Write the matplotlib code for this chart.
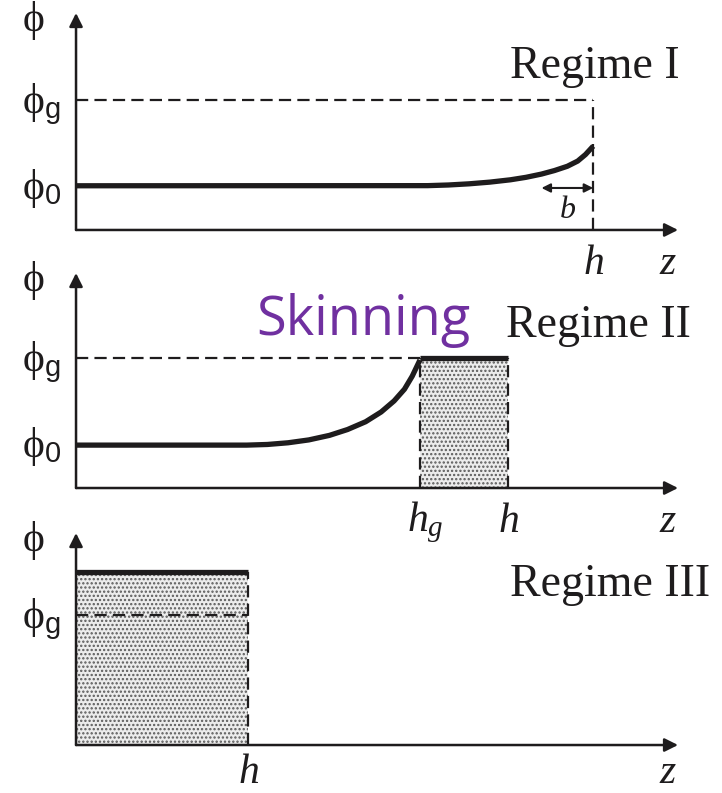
import matplotlib
matplotlib.use("Agg")
import matplotlib.pyplot as plt

plt.rcParams["mathtext.fontset"] = "custom"
plt.rcParams["mathtext.rm"] = "Liberation Serif"
plt.rcParams["mathtext.it"] = "Liberation Serif:italic"
plt.rcParams["mathtext.sf"] = "Liberation Sans"
plt.rcParams["hatch.linewidth"] = 1.1

INK = "#1e1c1d"
SHADE = "#ececec"
DOTS = "#5a5a5a"
PURPLE = "#7030a0"

# shared scales (h = 1 in regime I, phi_g = 1)
Z_MAX = 1.164
PHI_G = 1.0
PHI_0 = 0.34

# regime I: boundary layer of width b at the surface z = h
H1 = 1.0
B1 = 0.10
z1 = [0.0, 0.68, 0.72, 0.76, 0.80, 0.84, 0.87, 0.90, 0.925, 0.95, 0.97,
      0.985, 1.0]
phi1 = [0.34, 0.341, 0.346, 0.355, 0.368, 0.386, 0.405, 0.43, 0.457, 0.49,
        0.53, 0.58, 0.645]

# regime II: skin between h_g and h
HG2 = 0.665
H2 = 0.836
z2 = [0.0, 0.33, 0.37, 0.41, 0.45, 0.49, 0.525, 0.56, 0.59, 0.615, 0.635,
      0.65, 0.665]
phi2 = [0.33, 0.33, 0.335, 0.348, 0.37, 0.405, 0.45, 0.51, 0.585, 0.67,
        0.76, 0.86, 0.985]

# regime III: whole film above phi_g
H3 = 0.333
PHI_TOP3 = 1.33

fig = plt.figure(figsize=(7.22, 7.93), dpi=100)

# axes boxes in figure fractions: left, bottom, width, height
boxes = [
    [0.1053, 0.7100, 0.8338, 0.2736],
    [0.1053, 0.3846, 0.8338, 0.2711],
    [0.1053, 0.0605, 0.8338, 0.2673],
]
y_tops = [1.669, 1.654, 1.631]
regimes = ["Regime I", "Regime II", "Regime III"]

axes = []
for box, ytop in zip(boxes, y_tops):
    ax = fig.add_axes(box)
    ax.set_xlim(0, Z_MAX)
    ax.set_ylim(0, ytop)
    ax.axis("off")
    arrow = dict(arrowstyle="-|>", lw=1.8, color=INK, mutation_scale=20,
                 shrinkA=0, shrinkB=0)
    ax.annotate("", xy=(Z_MAX, 0), xytext=(0, 0), arrowprops=arrow)
    ax.annotate("", xy=(0, ytop), xytext=(0, 0), arrowprops=arrow)
    axes.append(ax)

serif = dict(color=INK, fontsize=30, clip_on=False)
dash = dict(color=INK, lw=1.6, ls=(0, (5.5, 2.8)))
thick = dict(color=INK, lw=3.8, solid_capstyle="butt", solid_joinstyle="round")
shade = dict(align="edge", color=SHADE, edgecolor=DOTS, hatch="....",
             linewidth=0, zorder=0)


def phi_labels(ax, levels, ytop):
    ax.text(-0.104, ytop - 0.06, r"$\mathrm{\phi}$", ha="left",
            va="center", **serif)
    for name, val in levels:
        ax.text(-0.104, val - 0.10, r"$\mathrm{\phi}_\mathsf{%s}$" % name,
                ha="left", va="baseline", **serif)


def z_labels(ax, marks, y=-0.335):
    for txt, val in marks:
        ax.text(val, y, txt, ha="center", va="baseline", **serif)
    ax.text(1.145, y, r"$z$", ha="center", va="baseline", **serif)


# regime I
ax = axes[0]
ax.plot([0, H1], [PHI_G, PHI_G], **dash)
ax.plot([H1, H1], [0, PHI_G], **dash)
ax.plot(z1, phi1, **thick)
ax.annotate("", xy=(H1 - B1, 0.323), xytext=(H1, 0.323),
            arrowprops=dict(arrowstyle="<|-|>", lw=1.5, color=INK,
                            mutation_scale=13, shrinkA=0, shrinkB=0))
ax.text(H1 - B1 / 2, 0.09, r"$b$", ha="center", va="baseline",
        color=INK, fontsize=23)
phi_labels(ax, [("g", PHI_G), ("0", PHI_0)], y_tops[0])
z_labels(ax, [(r"$h$", H1)])
ax.text(0.839, 1.17, regimes[0], ha="left", va="baseline",
        family="Liberation Serif", fontsize=33, color=INK)

# regime II
ax = axes[1]
ax.bar(HG2, PHI_G, width=H2 - HG2, **shade)
ax.plot([0, HG2], [PHI_G, PHI_G], **dash)
ax.plot([HG2, HG2], [0, PHI_G], **dash)
ax.plot([H2, H2], [0, PHI_G], **dash)
ax.plot(z2, phi2, **thick)
ax.plot([HG2, H2], [PHI_G, PHI_G], **thick)
phi_labels(ax, [("g", PHI_G), ("0", PHI_0)], y_tops[1])
z_labels(ax, [(r"$h_g$", HG2 + 0.01), (r"$h$", H2)])
ax.text(0.832, 1.16, regimes[1], ha="left", va="baseline",
        family="Liberation Serif", fontsize=33, color=INK)
ax.text(0.348, 1.18, "Skinning", ha="left", va="baseline", color=PURPLE,
        fontsize=39, family="Open Sans")

# regime III
ax = axes[2]
ax.bar(0, PHI_TOP3, width=H3, **shade)
ax.plot([0, H3], [PHI_G, PHI_G], **dash)
ax.plot([H3, H3], [0, PHI_TOP3], **dash)
ax.plot([0, H3], [PHI_TOP3, PHI_TOP3], **thick)
phi_labels(ax, [("g", PHI_G)], y_tops[2])
z_labels(ax, [(r"$h$", H3)], y=-0.29)
ax.text(0.839, 1.15, regimes[2], ha="left", va="baseline",
        family="Liberation Serif", fontsize=33, color=INK)

fig.savefig("out.png", dpi=100)
